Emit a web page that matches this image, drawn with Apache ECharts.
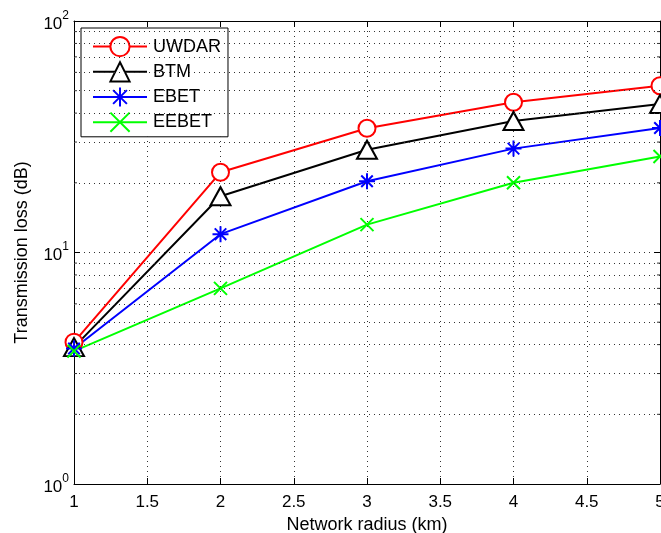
<!DOCTYPE html>
<html>
<head>
<meta charset="utf-8">
<script src="https://cdn.jsdelivr.net/npm/echarts@6/dist/echarts.min.js"></script>
<style>
html,body{margin:0;padding:0;background:#fff;overflow:hidden;}
#c{width:661px;height:533px;}
</style>
</head>
<body>
<div id="c"></div>
<script>
const radius = [1, 2, 3, 4, 5];
const uwdar = [4.1, 22.2, 34.4, 44.6, 52.5];
const btm = [3.9, 17.5, 27.8, 37.0, 43.8];
const ebet = [3.85, 12.0, 20.3, 28.1, 34.5];
const eebet = [3.75, 7.0, 13.2, 20.0, 26.0];
const seriesNames = ['UWDAR', 'BTM', 'EBET', 'EEBET'];
const minorValues = [2, 3, 4, 5, 6, 7, 8, 9, 20, 30, 40, 50, 60, 70, 80, 90];
const xTicks = ['1', '1.5', '2', '2.5', '3', '3.5', '4', '4.5', '5'];

const FONT = '"Liberation Sans", Arial, Helvetica, sans-serif';
const pairs = arr => radius.map((x, i) => [x, arr[i]]);
const dotted = {color: '#333', width: 1, type: [1, 4]};

const chart = echarts.init(document.getElementById('c'), null, {renderer: 'canvas'});

function lineSeries(name, data, color, symbol, size) {
  return {
    name: name, type: 'line', data: pairs(data),
    xAxisIndex: 0, yAxisIndex: 0,
    symbol: symbol, symbolSize: size, showSymbol: true,
    clip: false,
    lineStyle: {color: color, width: 2},
    itemStyle: {color: color, borderColor: color, borderWidth: 2},
    emphasis: {disabled: true}
  };
}

const option = {
  animation: false,
  backgroundColor: '#fff',
  textStyle: {fontFamily: FONT},
  grid: {left: 74, top: 21, right: 1, bottom: 49, containLabel: false, outerBoundsMode: 'none'},
  legend: {
    data: seriesNames,
    orient: 'vertical',
    left: 81, top: 28,
    padding: [8, 7, 4, 11],
    itemWidth: 54, itemHeight: 24, itemGap: 4,
    borderColor: '#000', borderWidth: 1, borderRadius: 0,
    backgroundColor: '#fff',
    selectedMode: false,
    textStyle: {fontSize: 18, color: '#000', fontFamily: FONT, padding: [0, 0, 0, 1]}
  },
  xAxis: [{
    type: 'value', min: 1, max: 5, interval: 0.5,
    name: 'Network radius (km)', nameLocation: 'middle', nameGap: 27,
    nameTextStyle: {fontSize: 18, color: '#000', fontFamily: FONT},
    axisLine: {show: true, lineStyle: {color: '#000', width: 1}},
    axisTick: {show: true, inside: true, length: 6, lineStyle: {color: '#000'}},
    axisLabel: {
      fontSize: 17, color: '#000', margin: 10, fontFamily: FONT,
      formatter: v => xTicks[Math.round((v - 1) * 2)] || String(v),
      showMinLabel: true, showMaxLabel: true, hideOverlap: false
    },
    splitLine: {show: true, lineStyle: dotted}
  }, {
    type: 'value', min: 1, max: 5, interval: 0.5, position: 'top',
    axisLine: {show: true, onZero: false, lineStyle: {color: '#000', width: 1}},
    axisTick: {show: true, inside: true, length: 6, lineStyle: {color: '#000'}},
    axisLabel: {show: false},
    splitLine: {show: false}
  }],
  yAxis: [{
    type: 'log', logBase: 10, min: 1, max: 100,
    name: 'Transmission loss (dB)', nameLocation: 'middle', nameGap: 43,
    nameTextStyle: {fontSize: 18, color: '#000', fontFamily: FONT},
    axisLine: {show: true, lineStyle: {color: '#000', width: 1}},
    axisTick: {show: true, inside: true, length: 6, lineStyle: {color: '#000'}},
    axisLabel: {
      margin: 5, color: '#000', fontFamily: FONT,
      formatter: v => '{b|10}{s|' + Math.round(Math.log10(v)) + '}',
      rich: {
        b: {fontSize: 17, lineHeight: 23, verticalAlign: 'bottom', color: '#000', fontFamily: FONT},
        s: {fontSize: 12, lineHeight: 23, verticalAlign: 'top', color: '#000', fontFamily: FONT}
      }
    },
    splitLine: {show: true, lineStyle: dotted}
  }, {
    type: 'log', logBase: 10, min: 1, max: 100, position: 'right',
    axisLine: {show: true, onZero: false, lineStyle: {color: '#000', width: 1}},
    axisTick: {show: true, inside: true, length: 6, lineStyle: {color: '#000'}},
    axisLabel: {show: false},
    splitLine: {show: false}
  }],
  series: [
    {
      name: 'minorLeft', type: 'scatter', silent: true,
      xAxisIndex: 0, yAxisIndex: 0,
      data: minorValues.map(v => [radius[0], v]),
      symbol: 'rect', symbolSize: [3, 1], symbolOffset: [1.5, 0],
      itemStyle: {color: '#000'}, z: 1,
      markLine: {
        silent: true, symbol: 'none', animation: false,
        label: {show: false},
        lineStyle: dotted,
        emphasis: {disabled: true},
        data: minorValues.map(v => ({yAxis: v}))
      }
    },
    {
      name: 'minorRight', type: 'scatter', silent: true,
      xAxisIndex: 0, yAxisIndex: 0,
      data: minorValues.map(v => [radius[radius.length - 1], v]),
      symbol: 'rect', symbolSize: [3, 1], symbolOffset: [-1.5, 0],
      itemStyle: {color: '#000'}, z: 1
    },
    lineSeries('UWDAR', uwdar, '#ff0000', 'emptyCircle', 17),
    lineSeries('BTM', btm, '#000000', 'emptyTriangle', [20, 18]),
    lineSeries('EBET', ebet, '#0000ff', 'path://M0,-1L0,1M-1,0L1,0M-0.72,-0.72L0.72,0.72M-0.72,0.72L0.72,-0.72', 16),
    lineSeries('EEBET', eebet, '#00ff00', 'path://M0,0L1,1M1,0L0,1', 13)
  ]
};
chart.setOption(option);
</script>
</body>
</html>
